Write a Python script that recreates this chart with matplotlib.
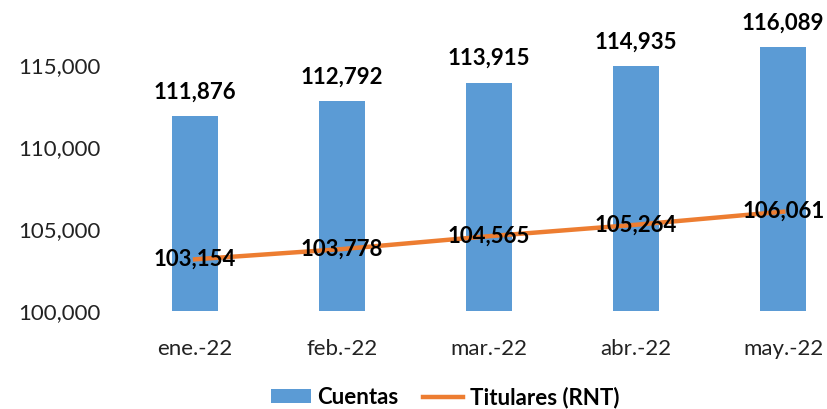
import numpy as np
import matplotlib
matplotlib.use("Agg")
import matplotlib.pyplot as plt
from matplotlib.patches import Patch
from matplotlib.lines import Line2D

months = ["ene.-22", "feb.-22", "mar.-22", "abr.-22", "may.-22"]
cuentas = [111876, 112792, 113915, 114935, 116089]
titulares = [103154, 103778, 104565, 105264, 106061]

blue = "#5B9BD5"
orange = "#ED7D31"

plt.rcParams['font.family'] = ['Lato', 'DejaVu Sans']

fig = plt.figure(figsize=(8.27, 4.09), dpi=100)
ax = fig.add_axes([0.147, 0.2396, 0.889, 0.7213])

x = np.arange(len(months))
base = 100000
ax.bar(x, np.array(cuentas) - base, bottom=base, width=0.315, color=blue, zorder=2)
ax.plot(x, titulares, color=orange, linewidth=3.2, zorder=3)

for xi, v in zip(x, cuentas):
    ax.annotate(f"{v:,}", (xi, v), xytext=(0, 10), textcoords="offset points",
                ha="center", va="bottom", fontsize=16, fontweight="bold", zorder=4)
for xi, v in zip(x, titulares):
    ax.text(xi, v, f"{v:,}", ha="center", va="center", fontsize=16,
            fontweight="bold", zorder=4)

ax.set_xlim(-0.5, 4.5)
ax.set_ylim(100000, 118000)
ax.set_yticks([100000, 105000, 110000, 115000])
ax.set_yticklabels([f"{t:,}" for t in [100000, 105000, 110000, 115000]])
ax.set_xticks(x)
ax.set_xticklabels(months)
ax.tick_params(axis="y", length=0, pad=15, labelsize=16, labelcolor="#222222")
ax.tick_params(axis="x", length=0, pad=20, labelsize=16, labelcolor="#222222")
for s in ax.spines.values():
    s.set_visible(False)

handles = [Patch(facecolor=blue, label="Cuentas"),
           Line2D([0], [0], color=orange, linewidth=3.2, label="Titulares (RNT)")]
leg = fig.legend(handles=handles, loc="center", bbox_to_anchor=(0.538, 0.029),
                 ncol=2, frameon=False, handlelength=1.8, handleheight=0.55,
                 handletextpad=0.3, columnspacing=1.1,
                 prop={"size": 16, "weight": "bold"})

fig.savefig("out.png", dpi=100)
